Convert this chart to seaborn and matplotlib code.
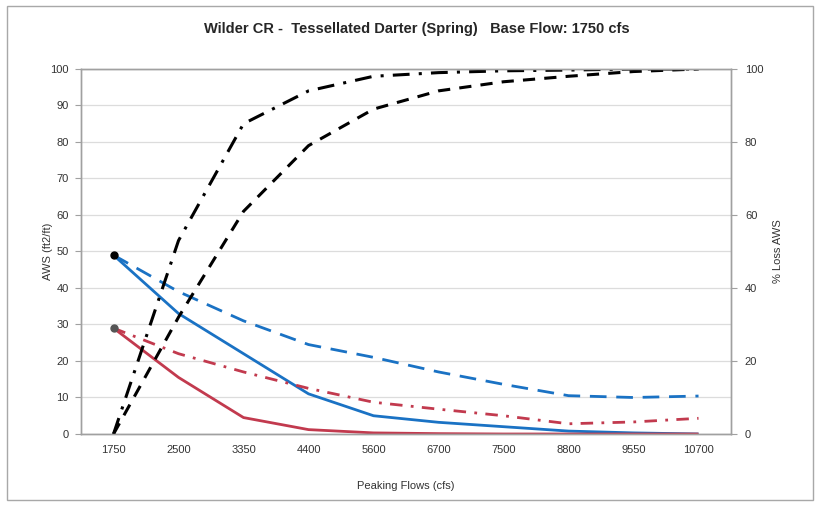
import numpy as np
import pandas as pd
import seaborn as sns
import matplotlib.pyplot as plt
from matplotlib.patches import Rectangle

# peaking flow categories (cfs)
flows = ['1750', '2500', '3350', '4400', '5600', '6700', '7500', '8800', '9550', '10700']

# AWS (ft2/ft), left axis
aws_blue_solid = [49, 33, 22, 11, 5, 3.2, 2, 0.8, 0.3, 0]
aws_blue_dash = [49, 39, 31, 24.5, 21, 17, 13.6, 10.5, 10, 10.4]
aws_red_solid = [29, 15.5, 4.5, 1.2, 0.3, 0.1, 0, 0, 0, 0]
aws_red_dashdot = [29, 22, 17, 12.5, 8.7, 6.8, 5, 2.8, 3.3, 4.3]

# % Loss AWS, right axis
loss_dashdot = [0, 53, 85, 94, 98, 99, 99.5, 99.7, 100, 100]
loss_dash = [0, 32, 61, 79, 89, 94, 96.5, 98, 99.3, 100]

BLUE = '#1a72c4'
RED = '#c23a4e'

sns.set_style('white')
plt.rcParams['font.family'] = ['Liberation Sans', 'DejaVu Sans']

fig = plt.figure(figsize=(8.2, 5.05), dpi=100)
ax = fig.add_axes([0.0988, 0.1406, 0.7927, 0.7228])
ax2 = ax.twinx()

df = pd.DataFrame({'x': np.arange(len(flows))})

def draw(target, y, color, dashes, lw=2.0):
    d = df.assign(y=y)
    line = sns.lineplot(data=d, x='x', y='y', ax=target, color=color, lw=lw, sort=False)
    ln = line.lines[-1]
    if dashes is not None:
        ln.set_dashes(dashes)
    ln.set_solid_capstyle('butt')
    ln.set_dash_capstyle('butt')

draw(ax, aws_blue_dash, BLUE, (6, 3.5))
draw(ax, aws_blue_solid, BLUE, None)
draw(ax, aws_red_dashdot, RED, (4.5, 3, 1, 3))
draw(ax, aws_red_solid, RED, None)
draw(ax2, loss_dashdot, 'black', (5.5, 3, 1, 3), lw=2.2)
draw(ax2, loss_dash, 'black', (4, 3), lw=2.2)

# start markers
ax.plot([0], [aws_blue_solid[0]], 'o', color='black', ms=5, zorder=5)
ax.plot([0], [aws_red_solid[0]], 'o', color='#555555', ms=5, zorder=5)

for a in (ax, ax2):
    a.set_ylim(0, 100)
    a.set_xlim(-0.5, len(flows) - 0.5)
    for s in a.spines.values():
        s.set_color('#a0a0a0')
        s.set_linewidth(1.0)

ax.set_yticks(np.arange(0, 101, 10))
ax2.set_yticks(np.arange(0, 101, 20))
ax.set_xticks(np.arange(len(flows)))
ax.set_xticklabels(flows)
ax.set_xticks(np.arange(-0.5, len(flows)), minor=True)
ax.yaxis.grid(True, color='#dcdcdc', lw=0.9)
ax.set_axisbelow(True)

ax.tick_params(axis='x', which='major', length=0, labelsize=8, pad=8, colors='#333333')
ax.tick_params(axis='x', which='minor', length=4, color='#a0a0a0', direction='out')
ax.tick_params(axis='y', length=4, color='#a0a0a0', direction='out', labelsize=8, colors='#333333', pad=5)
ax2.tick_params(axis='y', length=4, color='#a0a0a0', direction='out', labelsize=8, colors='#333333', pad=6)

ax.set_xlabel('Peaking Flows (cfs)', fontsize=8, color='#333333', labelpad=19)
ax.set_ylabel('AWS (ft2/ft)', fontsize=8, color='#333333', labelpad=-2)
ax2.set_ylabel('% Loss AWS', fontsize=8, color='#333333', rotation=90, labelpad=7)

fig.text(0.508, 0.942, 'Wilder CR -  Tessellated Darter (Spring)   Base Flow: 1750 cfs',
         ha='center', va='center', fontsize=10.5, fontweight='bold')

fig.patches.append(Rectangle((0.008, 0.01), 0.984, 0.978, transform=fig.transFigure,
                             fill=False, edgecolor='#a8a8a8', lw=1.0))

fig.savefig('out.png', dpi=100)
